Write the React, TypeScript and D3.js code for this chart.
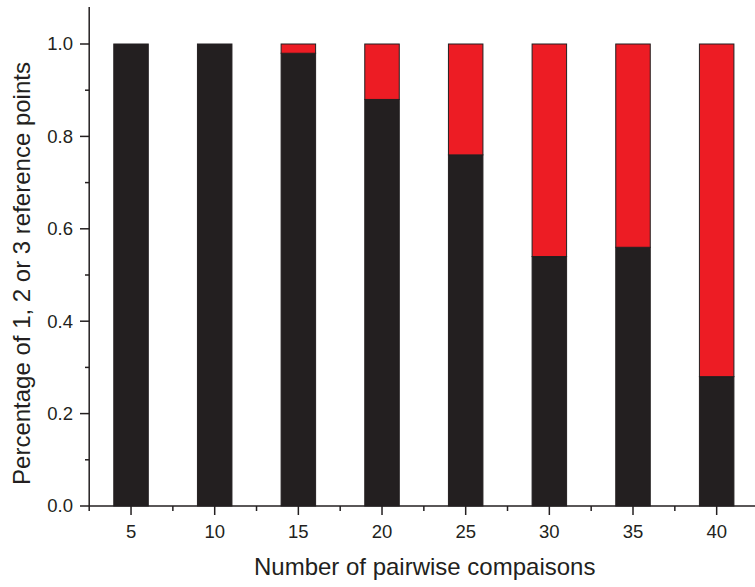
import React from "react";
import * as d3 from "d3";

const categories = [5, 10, 15, 20, 25, 30, 35, 40];
const blackValues = [1.0, 1.0, 0.98, 0.88, 0.76, 0.54, 0.56, 0.28];
const redValues = [0.0, 0.0, 0.02, 0.12, 0.24, 0.46, 0.44, 0.72];
const yTicks = [0.0, 0.2, 0.4, 0.6, 0.8, 1.0];
const yMinorTicks = [0.1, 0.3, 0.5, 0.7, 0.9, 1.1];
const xMinorTicks = [2.5, 7.5, 12.5, 17.5, 22.5, 27.5, 32.5, 37.5, 42.5];

const W = 755;
const H = 587;
const FONT = "'Liberation Sans', Arial, Helvetica, sans-serif";
const BLACK = "#231f20";
const RED = "#ed1c24";

export default function App() {
  const x = d3.scaleLinear().domain([2.5, 42.5]).range([89.2, 758.5]);
  const y = d3.scaleLinear().domain([0, 1]).range([506, 44]);
  const yTop = y(1.08);
  const barW = 34.5;

  return (
    <svg
      width={W}
      height={H}
      style={{ position: "absolute", left: 0, top: 0, background: "#fff" }}
      fontFamily={FONT}
    >
      {/* bars */}
      {categories.map((c, i) => {
        const b = blackValues[i];
        const r = redValues[i];
        const x0 = x(c) - barW / 2;
        return (
          <g key={c}>
            <rect
              x={x0}
              y={y(b)}
              width={barW}
              height={y(0) - y(b)}
              fill={BLACK}
              stroke={BLACK}
              strokeWidth={1}
            />
            {r > 0 && (
              <rect
                x={x0}
                y={y(b + r)}
                width={barW}
                height={y(b) - y(b + r)}
                fill={RED}
                stroke={BLACK}
                strokeWidth={1}
              />
            )}
          </g>
        );
      })}

      {/* y axis */}
      <line x1={89.2} x2={89.2} y1={yTop} y2={y(0)} stroke={BLACK} strokeWidth={1.5} />
      {yTicks.map((t) => (
        <g key={t}>
          <line x1={80} x2={89.2} y1={y(t)} y2={y(t)} stroke={BLACK} strokeWidth={1.5} />
          <text
            x={73}
            y={y(t)}
            dy="0.35em"
            textAnchor="end"
            fontSize={18.5}
            fill={BLACK}
          >
            {t.toFixed(1)}
          </text>
        </g>
      ))}
      {yMinorTicks.map((t) => (
        <line key={t} x1={85} x2={89.2} y1={y(t)} y2={y(t)} stroke={BLACK} strokeWidth={1.5} />
      ))}

      {/* x axis */}
      <line x1={89.2} x2={W} y1={y(0)} y2={y(0)} stroke={BLACK} strokeWidth={1.5} />
      {categories.map((c) => (
        <g key={c}>
          <line x1={x(c)} x2={x(c)} y1={y(0)} y2={y(0) + 9} stroke={BLACK} strokeWidth={1.5} />
          <text
            x={x(c)}
            y={y(0) + 31.5}
            textAnchor="middle"
            fontSize={18.5}
            fill={BLACK}
          >
            {c}
          </text>
        </g>
      ))}
      {xMinorTicks.map((t) => (
        <line key={t} x1={x(t)} x2={x(t)} y1={y(0)} y2={y(0) + 5} stroke={BLACK} strokeWidth={1.5} />
      ))}

      {/* titles */}
      <text
        x={424.7}
        y={575}
        textAnchor="middle"
        fontSize={24}
        fill={BLACK}
      >
        Number of pairwise compaisons
      </text>
      <text
        transform={`translate(29.5, 273.5) rotate(-90)`}
        textAnchor="middle"
        fontSize={24}
        fill={BLACK}
      >
        Percentage of 1, 2 or 3 reference points
      </text>
    </svg>
  );
}
